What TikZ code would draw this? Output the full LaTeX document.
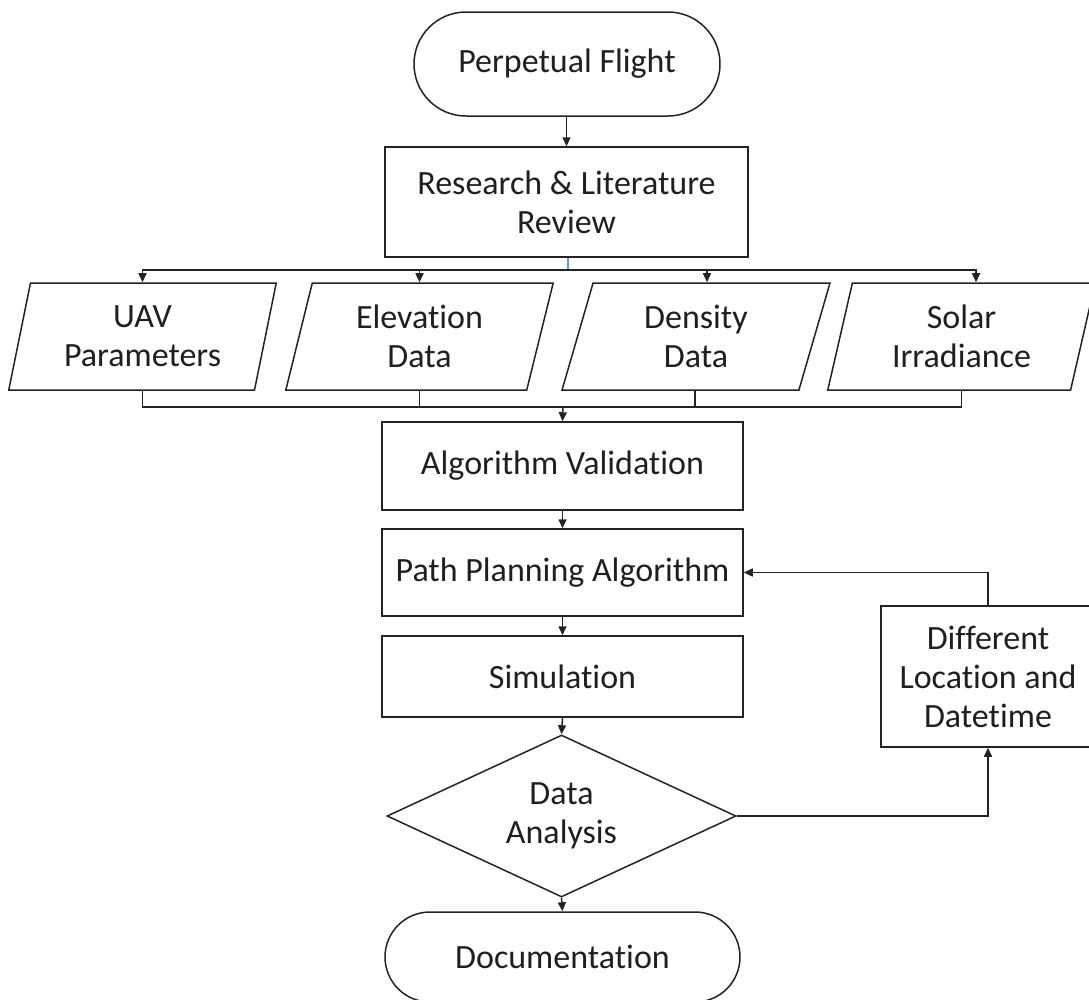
\documentclass[tikz,border=0pt]{standalone}
\usepackage{fontspec}
\setmainfont{Carlito}[RawFeature={-liga}]
\usetikzlibrary{arrows.meta,shapes.geometric,shapes.misc}
\definecolor{linec}{RGB}{35,35,35}
\definecolor{tickblue}{RGB}{91,155,213}
\begin{document}
\begin{tikzpicture}[x=1pt,y=-1pt,
  every node/.style={font=\fontsize{34}{39}\selectfont, text=black!88, align=center, inner sep=0pt},
  box/.style={draw=linec, line width=1.5pt, rectangle},
  term/.style={draw=linec, line width=1.5pt, rounded rectangle},
  para/.style={draw=linec, line width=1.5pt, trapezium, trapezium left angle=76, trapezium right angle=104, trapezium stretches=true, minimum width=268pt, minimum height=107pt},
  decis/.style={draw=linec, line width=1.5pt, diamond, aspect=2.15},
  conn/.style={draw=linec, line width=1.5pt},
  arr/.style={conn, -{Triangle[length=9pt,width=8pt]}}]
\useasboundingbox (0,0) rectangle (1089,999);

\node[term, minimum width=306pt, minimum height=104pt] (pf) at (567,64) {Perpetual Flight};
\node[box, minimum width=363pt, minimum height=110pt] (res) at (566.5,202) {Research \& Literature\\Review};

\node[para] (uav) at (142.5,336.5) {UAV\\Parameters};
\node[para] (elev) at (419.5,336.5) {Elevation\\Data};
\node[para] (dens) at (696,336.5) {Density\\Data};
\node[para] (sol) at (961.5,336.5) {Solar\\Irradiance};

\node[box, minimum width=361pt, minimum height=88pt] (av) at (562.5,466) {Algorithm Validation};
\node[box, minimum width=361pt, minimum height=87pt] (pp) at (562.5,572.5) {Path Planning Algorithm};
\node[box, minimum width=361pt, minimum height=81pt] (sim) at (562.5,676.5) {Simulation};
\node[decis, minimum width=349pt, minimum height=162pt] (da) at (561.5,816) {Data\\Analysis};
\node[term, minimum width=355pt, minimum height=90pt] (doc) at (562.5,957) {Documentation};
\node[box, minimum width=214pt, minimum height=141pt] (diff) at (988,676.5) {Different\\Location and\\Datetime};

\coordinate (tp) at (568,270);
\coordinate (jn) at (563,407);

\draw[arr] (pf.south -| res.north) -- (res.north);
\draw[draw=tickblue, line width=1.2pt] (res.south -| tp) -- (tp);
\draw[arr] (tp) -| (uav.north);
\draw[arr] (tp) -| (elev.north);
\draw[arr] (tp) -| ([xshift=11pt]dens.north);
\draw[arr] (tp) -| ([xshift=14.5pt]sol.north);

\draw[conn] (uav.south) |- (jn);
\draw[conn] (elev.south) |- (jn);
\draw[conn] ([xshift=-1pt]dens.south) |- (jn);
\draw[conn] (sol.south) |- (jn);
\draw[arr] (jn) -- (av.north);

\draw[arr] (av.south) -- (pp.north);
\draw[arr] (pp.south) -- (sim.north);
\draw[arr] (sim.south) -- (da.north);
\draw[arr] (da.south) -- (doc.north);
\draw[arr] (da.east) -| (diff.south);
\draw[arr] (diff.north) |- (pp.east);
\end{tikzpicture}
\end{document}
